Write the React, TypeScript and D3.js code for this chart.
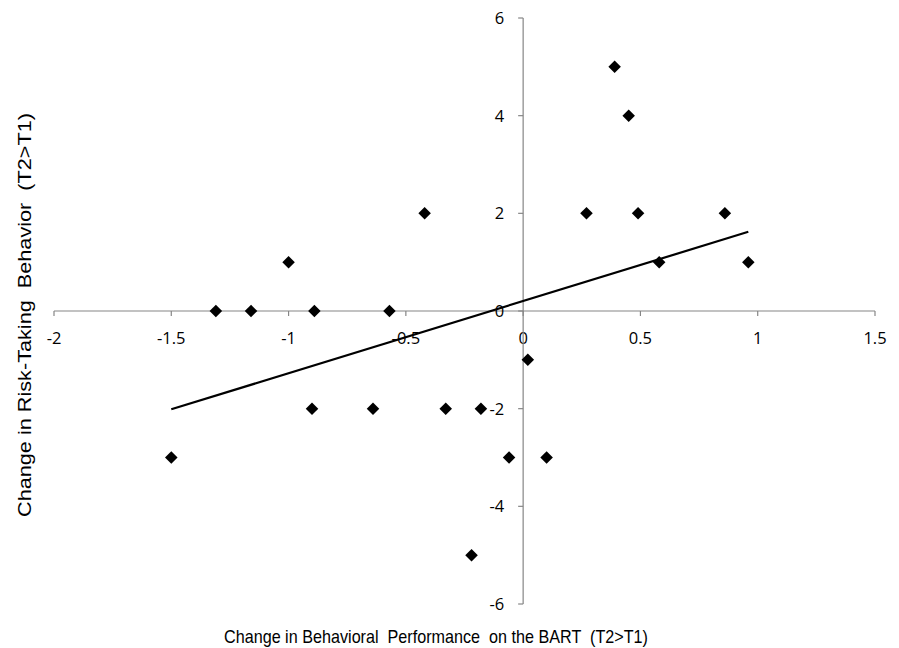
import React from "react";
import * as d3 from "d3";

const xValues = [-1.5, -1.31, -1.16, -1.0, -0.89, -0.9, -0.57, -0.64, -0.42, -0.33, -0.22, -0.18, -0.06, 0.02, 0.1, 0.27, 0.39, 0.45, 0.49, 0.58, 0.86, 0.96];
const yValues = [-3, 0, 0, 1, 0, -2, 0, -2, 2, -2, -5, -2, -3, -1, -3, 2, 5, 4, 2, 1, 2, 1];
const xTicks = [-2, -1.5, -1, -0.5, 0, 0.5, 1, 1.5];
const yTicks = [-6, -4, -2, 0, 2, 4, 6];
const xTitle = "Change in Behavioral  Performance  on the BART  (T2>T1)";
const yTitle = "Change in Risk-Taking  Behavior  (T2>T1)";

const W = 899;
const H = 648;

export default function App() {
  const x = d3.scaleLinear().domain([-2, 1.5]).range([54, 875]);
  const y = d3.scaleLinear().domain([-6, 6]).range([604, 18]);
  const pts = xValues.map((v, i) => ({ x: v, y: yValues[i] }));
  const mx = d3.mean(xValues) as number;
  const my = d3.mean(yValues) as number;
  const sxy = d3.sum(pts, (p) => (p.x - mx) * (p.y - my));
  const sxx = d3.sum(pts, (p) => (p.x - mx) ** 2);
  const slope = sxy / sxx;
  const icpt = my - slope * mx;
  const [x0, x1] = d3.extent(xValues) as [number, number];
  const line = d3.line<number>().x((d) => x(d)).y((d) => y(icpt + slope * d));
  const diamond = d3.symbol().type(d3.symbolDiamond2).size(100)();
  const axisColor = "#868686";
  const tickFont = "'Open Sans', Lato, sans-serif";
  const titleFont = "'Liberation Sans', Arial, sans-serif";
  return (
    <svg width={W} height={H} style={{ position: "absolute", left: 0, top: 0, background: "#fff" }}>
      <rect width={W} height={H} fill="#fff" />
      {/* x axis */}
      <line x1={x(-2)} x2={x(1.5)} y1={y(0)} y2={y(0)} stroke={axisColor} strokeWidth={1.2} />
      {xTicks.map((t) => (
        <g key={"xt" + t}>
          <line x1={x(t)} x2={x(t)} y1={y(0)} y2={y(0) + 5} stroke={axisColor} strokeWidth={1.2} />
          <text x={x(t)} y={y(0) + 33} textAnchor="middle" fontFamily={tickFont} fontSize={16.5} fill="#000">
            {t}
          </text>
        </g>
      ))}
      {/* y axis */}
      <line x1={x(0)} x2={x(0)} y1={y(6)} y2={y(-6)} stroke={axisColor} strokeWidth={1.2} />
      {yTicks.map((t) => (
        <g key={"yt" + t}>
          <line x1={x(0) - 5} x2={x(0)} y1={y(t)} y2={y(t)} stroke={axisColor} strokeWidth={1.2} />
          <text x={x(0) - 19} y={y(t) + 6} textAnchor="end" fontFamily={tickFont} fontSize={16.5} fill="#000">
            {t}
          </text>
        </g>
      ))}
      {/* trend line */}
      <path d={line([x0, x1]) || ""} stroke="#000" strokeWidth={2.2} fill="none" />
      {/* points */}
      {pts.map((p, i) => (
        <path key={i} d={diamond || ""} transform={`translate(${x(p.x)},${y(p.y)})`} fill="#000" />
      ))}
      {/* titles */}
      <text x={436} y={643} textAnchor="middle" fontFamily={titleFont} fontSize={19} fill="#000" textLength={424} lengthAdjust="spacingAndGlyphs" style={{ whiteSpace: "pre" }}>
        {xTitle}
      </text>
      <text transform={`translate(31,315) rotate(-90)`} textAnchor="middle" fontFamily={titleFont} fontSize={19} fill="#000" textLength={404} lengthAdjust="spacingAndGlyphs" style={{ whiteSpace: "pre" }}>
        {yTitle}
      </text>
    </svg>
  );
}
